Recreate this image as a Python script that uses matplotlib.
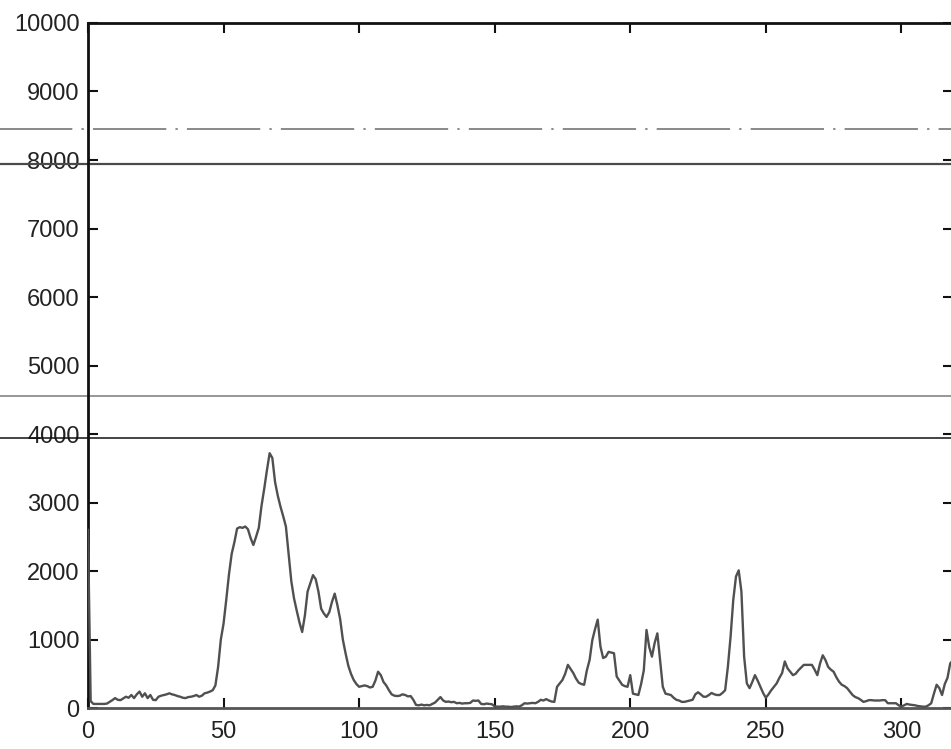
import matplotlib
matplotlib.use("Agg")
import matplotlib.pyplot as plt

# signal values, one per sample index
signal = [
    2600, 100, 60, 60, 60, 60, 60, 65, 90, 115,
    145, 120, 115, 140, 165, 150, 190, 145, 200, 240,
    165, 215, 145, 190, 120, 115, 165, 180, 190, 200,
    215, 200, 190, 175, 165, 150, 145, 160, 165, 175,
    190, 165, 180, 215, 225, 240, 260, 330, 600, 1000,
    1230, 1580, 1950, 2250, 2420, 2620, 2640, 2630, 2650, 2610,
    2480, 2380, 2500, 2630, 2950, 3200, 3470, 3720, 3650, 3300,
    3100, 2940, 2800, 2650, 2250, 1850, 1600, 1420, 1250, 1110,
    1350, 1700, 1820, 1940, 1880, 1700, 1450, 1380, 1330, 1400,
    1550, 1670, 1500, 1300, 1000, 800, 620, 500, 410, 350,
    310, 320, 330, 320, 300, 310, 400, 530, 480, 380,
    330, 260, 200, 180, 175, 180, 200, 190, 170, 175,
    120, 45, 40, 50, 40, 45, 40, 60, 80, 120,
    160, 110, 90, 95, 85, 90, 70, 75, 65, 70,
    70, 75, 110, 105, 110, 60, 55, 65, 60, 55,
    25, 20, 20, 25, 20, 20, 15, 20, 25, 20,
    40, 70, 65, 70, 75, 70, 90, 120, 110, 130,
    110, 95, 90, 310, 360, 410, 500, 630, 570, 510,
    430, 370, 350, 340, 550, 700, 990, 1150, 1290, 900,
    730, 750, 820, 810, 800, 460, 400, 340, 320, 310,
    480, 210, 200, 190, 350, 550, 1140, 890, 750, 950,
    1090, 700, 310, 210, 200, 190, 150, 120, 110, 90,
    90, 100, 110, 120, 200, 230, 200, 165, 165, 190,
    220, 200, 190, 190, 220, 260, 600, 1040, 1580, 1920,
    2010, 1700, 750, 360, 290, 380, 480, 400, 310, 220,
    150, 200, 260, 310, 360, 440, 510, 680, 580, 530,
    480, 500, 550, 590, 630, 630, 630, 630, 560, 480,
    650, 770, 700, 600, 560, 530, 450, 385, 340, 320,
    290, 240, 190, 160, 145, 120, 90, 100, 115, 115,
    110, 110, 110, 115, 115, 70, 70, 70, 70, 40,
    20, 40, 60, 50, 45, 40, 30, 25, 20, 20,
    40, 70, 210, 340, 290, 190, 350, 440, 650, 700,
]
samples = list(range(len(signal)))

# horizontal threshold lines
upper_dashed = 8450
upper_solid = 7940
lower_gray = 4560
lower_black = 3940

x_ticks = [0, 50, 100, 150, 200, 250, 300]
y_ticks = list(range(0, 10001, 1000))

plt.rcParams["font.family"] = ["Liberation Sans", "DejaVu Sans"]

fig = plt.figure(figsize=(9.51, 7.49), dpi=100)
ax = fig.add_axes([0.0925, 0.0547, 0.9095, 0.9146])

ax.plot(samples, signal, color="#505050", lw=1.7, zorder=3)

# threshold lines run past the left spine into the label area
line_kw = dict(xmin=-0.11, xmax=1.0, clip_on=False, zorder=2)
ax.axhline(upper_dashed, color="#6a6a6a", lw=1.1,
           dashes=(48, 6, 1.5, 6), **line_kw)
ax.axhline(upper_solid, color="#4a4a4a", lw=1.6, **line_kw)
ax.axhline(lower_gray, color="#7a7a7a", lw=1.1, **line_kw)
ax.axhline(lower_black, color="#111111", lw=1.1, **line_kw)

ax.set_xlim(0, 319)
ax.set_ylim(0, 10000)
ax.set_xticks(x_ticks)
ax.set_yticks(y_ticks)

ax.tick_params(direction="in", length=7, width=1.5, top=True, right=True,
               labelsize=17, labelcolor="#222222", colors="#111111")
ax.tick_params(axis="x", pad=9)
ax.tick_params(axis="y", pad=6)

for side in ["left", "top", "right"]:
    ax.spines[side].set_linewidth(2)
    ax.spines[side].set_color("#111111")
ax.spines["bottom"].set_linewidth(2)
ax.spines["bottom"].set_color("#555555")

fig.savefig("out.png", dpi=100)
